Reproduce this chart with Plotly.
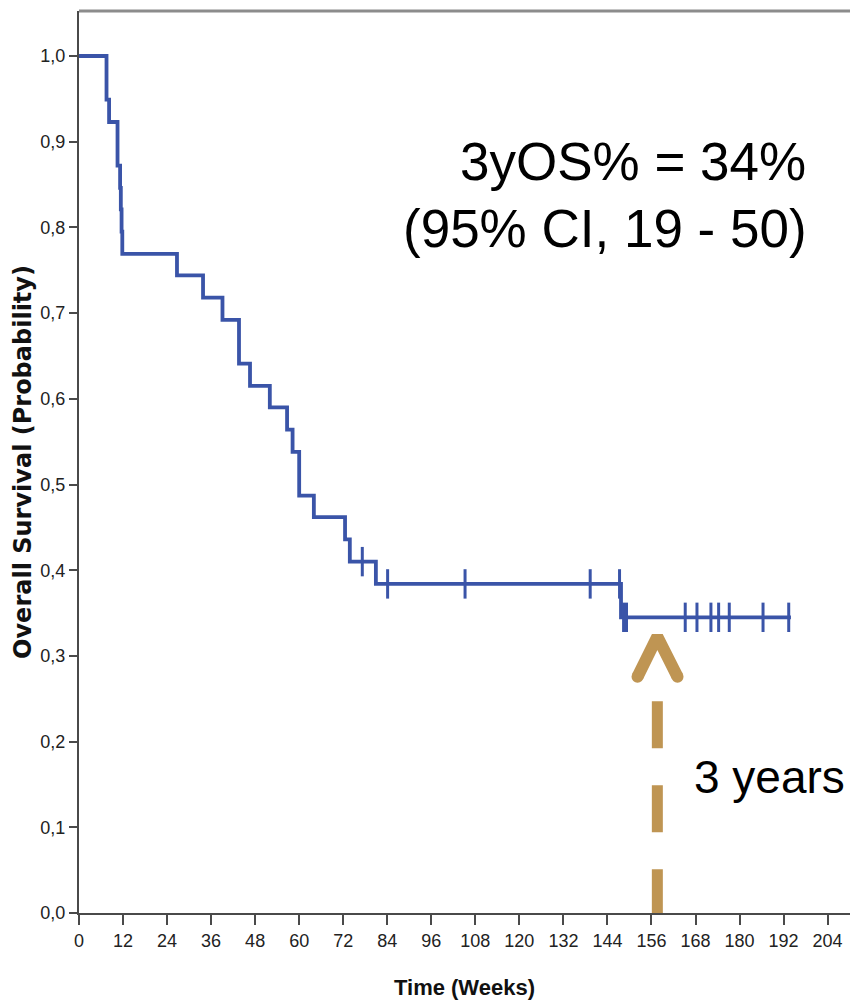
import plotly.graph_objects as go

# ---------------- DATA ----------------
# Kaplan-Meier steps: time (weeks) and survival probability from that time on
step_weeks = [0, 7.5, 8.2, 10.5, 11.2, 11.4, 11.6, 11.8, 26.7, 33.8, 39.1, 43.6,
              46.6, 52.0, 56.7, 58.2, 60.0, 64.0, 72.5, 73.8, 80.9, 147.7, 194.0]
step_surv = [1.0, 0.949, 0.923, 0.872, 0.846, 0.821, 0.795, 0.769, 0.744, 0.718, 0.692, 0.641,
             0.615, 0.590, 0.564, 0.538, 0.487, 0.462, 0.436, 0.410, 0.384, 0.345, 0.345]

# Censored observations
censor_weeks = [77.2, 84.1, 105.2, 139.3, 147.3, 148.4, 149.2, 165.2, 168.4,
                172.2, 174.3, 177.2, 186.4, 193.4]
censor_surv = [0.410, 0.384, 0.384, 0.384, 0.384, 0.345, 0.345, 0.345, 0.345,
               0.345, 0.345, 0.345, 0.345, 0.345]

# Axis ticks
x_tickvals = [0, 12, 24, 36, 48, 60, 72, 84, 96, 108, 120, 132, 144, 156, 168, 180, 192, 204]
x_ticktext = ["0", "12", "24", "36", "48", "60", "72", "84", "96", "108", "120", "132",
              "144", "156", "168", "180", "192", "204"]
y_tickvals = [0.0, 0.1, 0.2, 0.3, 0.4, 0.5, 0.6, 0.7, 0.8, 0.9, 1.0]
y_ticktext = ["0,0", "0,1", "0,2", "0,3", "0,4", "0,5", "0,6", "0,7", "0,8", "0,9", "1,0"]

# Annotation texts
os_text = "3yOS% = 34%"
ci_text = "(95% CI, 19 - 50)"
years_text = "3 years"
three_year_week = 157.6

# ---------------- STYLE ----------------
BLUE = "#3a54a8"
TAN = "#bf9553"
AXIS = "#4a4a4a"
ARIAL = "Liberation Sans, Arial, sans-serif"

fig = go.Figure()

fig.add_trace(go.Scatter(
    x=step_weeks, y=step_surv, mode="lines", line_shape="hv",
    line=dict(color=BLUE, width=3.8), hoverinfo="skip", showlegend=False,
))
fig.add_trace(go.Scatter(
    x=censor_weeks, y=censor_surv, mode="markers",
    marker=dict(symbol="line-ns-open", size=21, color=BLUE, line=dict(color=BLUE, width=3)),
    hoverinfo="skip", showlegend=False,
))

# Arrow head (chevron) for the 3-year marker
fig.add_trace(go.Scatter(
    x=[three_year_week - 5.4, three_year_week, three_year_week + 5.5],
    y=[0.2757, 0.3225, 0.2757],
    mode="lines+markers",
    line=dict(color=TAN, width=12),
    marker=dict(size=[12, 0, 12], color=TAN, opacity=1, symbol="circle",
                line=dict(width=0, color=TAN)),
    hoverinfo="skip", showlegend=False, cliponaxis=False,
))

# Dashed arrow shaft
fig.add_shape(type="line", xref="x", yref="y",
              x0=three_year_week, x1=three_year_week, y0=0.247, y1=-0.004,
              line=dict(color=TAN, width=11, dash="47px,37px"), layer="above")

# Top border
fig.add_shape(type="line", xref="paper", yref="paper", x0=0, x1=1, y0=1, y1=1,
              line=dict(color="#8c8c8c", width=3))

fig.add_annotation(text=os_text, xref="paper", yref="paper", x=0.9455, y=0.8337,
                   xanchor="right", yanchor="middle", showarrow=False,
                   font=dict(family=ARIAL, size=53, color="#000000"))
fig.add_annotation(text=ci_text, xref="paper", yref="paper", x=0.9468, y=0.7594,
                   xanchor="right", yanchor="middle", showarrow=False,
                   font=dict(family=ARIAL, size=53, color="#000000"))
fig.add_annotation(text=years_text, xref="paper", yref="paper", x=0.7955, y=0.1508,
                   xanchor="left", yanchor="middle", showarrow=False,
                   font=dict(family=ARIAL, size=46, color="#000000"))

fig.update_layout(
    width=850, height=1006,
    margin=dict(l=79, r=0, t=11, b=93),
    paper_bgcolor="white", plot_bgcolor="white",
    showlegend=False,
    xaxis=dict(
        range=[0, 210.1], tickvals=x_tickvals, ticktext=x_ticktext,
        showgrid=False, zeroline=False, showline=True, linecolor=AXIS, linewidth=2,
        ticks="outside", ticklen=10, tickwidth=2, tickcolor=AXIS,
        tickfont=dict(family=ARIAL, size=18, color="#222222"),
        title=dict(text="<b>Time (Weeks)</b>", standoff=30,
                   font=dict(family=ARIAL, size=22, color="#111111")),
    ),
    yaxis=dict(
        range=[0, 1.0525], tickvals=y_tickvals, ticktext=y_ticktext,
        showgrid=False, zeroline=False, showline=True, linecolor=AXIS, linewidth=2,
        ticks="outside", ticklen=8, tickwidth=2, tickcolor=AXIS,
        tickfont=dict(family=ARIAL, size=18, color="#222222"),
        title=dict(text="<b>Overall Survival (Probability)</b>", standoff=2,
                   font=dict(family="DejaVu Sans, sans-serif", size=24, color="#111111")),
    ),
)

fig.write_html("out.html", config={"displayModeBar": False},
               post_script="document.body.style.margin='0';")
